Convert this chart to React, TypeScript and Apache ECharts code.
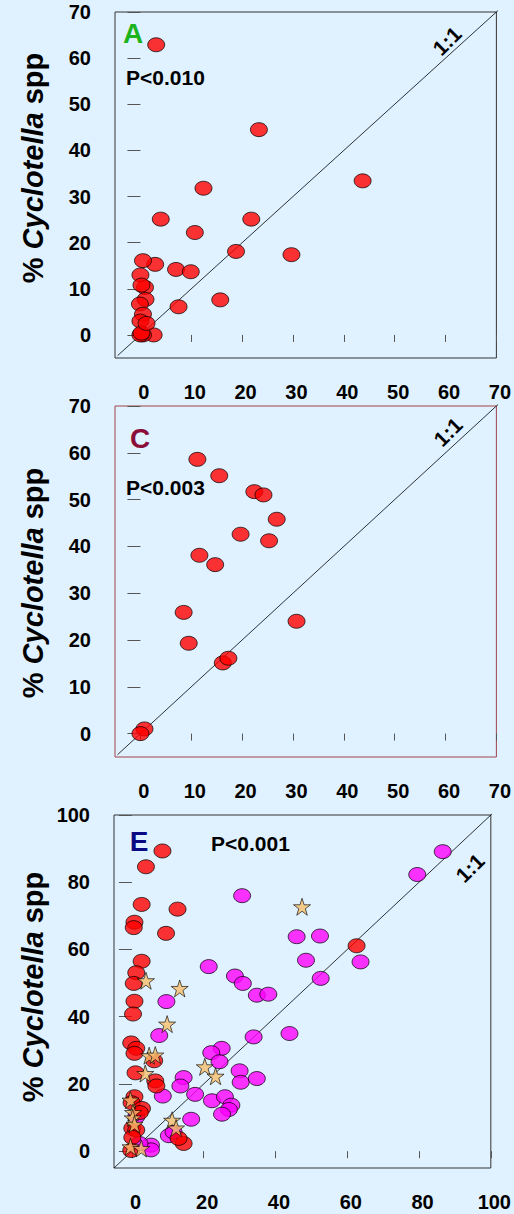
import React, { useEffect, useRef } from "react";
import * as echarts from "echarts";

// ---------- data ----------
const ticks70 = [0, 10, 20, 30, 40, 50, 60, 70];
const ticks100 = [0, 20, 40, 60, 80, 100];

const aRed: number[][] = [
  [3.1, 62.9], [23.3, 44.5], [12.4, 31.8], [43.7, 33.4], [4.0, 25.1], [21.8, 25.1],
  [10.7, 22.2], [29.7, 17.4], [18.8, 18.1], [2.9, 15.3], [7.0, 14.2], [9.9, 13.7],
  [0.5, 16.1], [0.0, 13.0], [0.9, 10.3], [0.2, 10.8], [1.0, 7.7], [-0.1, 6.7],
  [7.5, 6.1], [15.7, 7.6], [0.5, 4.5], [0.0, 3.0], [2.6, 0.0], [0.5, 0.0],
  [0.0, 0.0], [0.2, 0.4], [1.2, 2.5],
];

const cRed: number[][] = [
  [11.2, 58.6], [15.5, 55.1], [22.4, 51.7], [24.2, 51.0], [26.8, 45.8], [19.7, 42.6],
  [25.3, 41.2], [11.6, 38.1], [14.7, 36.1], [8.5, 25.9], [9.5, 19.3], [30.7, 24.0],
  [16.2, 15.1], [17.3, 16.1], [0.8, 1.0], [0.0, 0.0],
];

const eMagenta: number[][] = [
  [86.6, 89.1], [79.5, 82.3], [30.7, 76.0], [45.9, 63.8], [52.4, 64.0], [48.5, 56.8],
  [63.7, 56.3], [52.6, 51.4], [21.4, 54.9], [28.7, 52.1], [30.9, 49.9], [34.8, 46.4],
  [38.0, 46.7], [9.6, 44.5], [7.6, 34.4], [33.9, 34.0], [43.9, 35.0], [25.0, 30.6],
  [22.1, 29.3], [24.4, 26.6], [30.0, 23.9], [30.3, 20.5], [34.8, 21.6], [14.4, 21.9],
  [13.5, 19.4], [17.6, 16.9], [8.6, 16.4], [22.3, 15.0], [25.9, 16.2], [27.7, 13.7],
  [27.0, 12.4], [25.1, 11.0], [16.5, 9.5], [10.3, 4.6], [11.6, 5.7], [5.3, 1.8],
  [5.3, 0.4], [2.1, 2.3], [1.2, 10.2],
];

const eRed: number[][] = [
  [8.5, 89.3], [3.9, 84.6], [2.7, 73.4], [12.7, 72.0], [0.7, 68.1], [0.5, 66.5],
  [9.5, 64.8], [2.7, 56.5], [1.2, 53.1], [0.5, 49.9], [62.6, 61.1], [0.7, 44.6],
  [0.3, 40.8], [-0.2, 32.2], [1.2, 30.6], [0.7, 29.1], [6.2, 26.9], [1.0, 23.3],
  [6.5, 20.9], [6.8, 19.4], [0.7, 16.2], [-0.1, 14.4], [2.8, 12.7], [2.2, 11.5],
  [0.1, 6.8], [1.2, 6.3], [0.1, 4.1], [-0.2, 0.2], [14.4, 2.3], [13.0, 3.8],
];

const eStar: number[][] = [
  [47.4, 72.7], [3.9, 50.7], [13.3, 48.4], [9.8, 37.8], [4.8, 28.4], [6.5, 28.6],
  [3.7, 23.1], [20.3, 25.1], [23.3, 22.3], [-0.4, 15.2], [0.3, 11.5], [0.2, 9.9],
  [0.7, 8.0], [11.2, 9.2], [12.3, 6.9], [-0.4, 1.3], [2.6, 0.8],
];

const oneToOne70: number[][] = [[-4.5, -4.5], [70.8, 70.8]];
const oneToOne100: number[][] = [[-5, -5], [101, 101]];

const panelLetters = ["A", "C", "E"];
const pLabels = ["P<0.010", "P<0.003", "P<0.001"];

// ---------- styles ----------
const FONT = "Liberation Sans, Arial, Helvetica, sans-serif";
const BG = "#E0F2FF";
const STAR =
  "path://M50,0 L61.8,35.4 L99,35.4 L69,57.3 L80.4,92.7 L50,70.8 L19.6,92.7 L31,57.3 L1,35.4 L38.2,35.4 Z";

const ellipse = { symbol: "circle", symbolSize: [17, 14] };
const redStyle = { color: "#FF0000", borderColor: "#000", borderWidth: 0.9 };
const magStyle = { color: "#FF00FF", borderColor: "#000", borderWidth: 0.9 };
const starStyle = { color: "#F7BE6C", borderColor: "#000", borderWidth: 0.8 };

export default function App() {
  const ref = useRef<HTMLDivElement>(null);

  useEffect(() => {
    document.body.style.margin = "0";
    document.body.style.background = BG;
    const chart = echarts.init(ref.current!, null, { renderer: "svg" });

    const grids = [
      { left: 115, top: 12, width: 385, height: 346, border: "#333" },
      { left: 115, top: 406, width: 384, height: 351, border: "#A0444A" },
      { left: 114, top: 815, width: 385, height: 353, border: "#333" },
    ];

    const labelStyle = {
      fontSize: 20,
      fontWeight: "bold",
      fontFamily: FONT,
      color: "#000",
    };

    const mkX = (i: number, max: number, vals: number[]) => ({
      type: "value",
      gridIndex: i,
      min: -5,
      max,
      splitLine: { show: false },
      axisLine: { show: false },
      axisTick: { show: true, length: 7, inside: false, customValues: vals, lineStyle: { color: "#555", width: 1 } },
      axisLabel: { customValues: vals, margin: 24, padding: [0, 0, 0, 7], ...labelStyle },
    });
    const mkY = (i: number, max: number, vals: number[]) => ({
      type: "value",
      gridIndex: i,
      min: -5,
      max,
      splitLine: { show: false },
      axisLine: { show: false },
      axisTick: { show: true, length: 13, inside: false, customValues: vals, lineStyle: { color: "#555", width: 1 } },
      axisLabel: { customValues: vals, margin: 24, ...labelStyle },
    });

    const diag = (i: number, d: number[][]) => ({
      type: "line",
      xAxisIndex: i,
      yAxisIndex: i,
      data: d,
      symbol: "none",
      silent: true,
      clip: false,
      lineStyle: { color: "#000", width: 0.8 },
      z: 1,
    });
    const sc = (i: number, d: number[][], style: any, sym: any, z: number) => ({
      type: "scatter",
      xAxisIndex: i,
      yAxisIndex: i,
      data: d,
      ...sym,
      itemStyle: style,
      z,
    });

    const yTitleCenters = [
      [33, 168],
      [33, 583],
      [33, 987],
    ];
    const letterColors = ["#1DB31D", "#8B0D3A", "#0A0A85"];
    const letterPos = [
      [133, 33],
      [140, 438],
      [139, 841],
    ];
    const pPos = [
      [126, 77],
      [126, 487],
      [211, 843],
    ];
    const oneOnePos = [
      [447, 41],
      [448, 432],
      [470, 868],
    ];

    const graphics: any[] = [];
    for (let i = 0; i < 3; i++) {
      graphics.push({
        type: "text",
        x: yTitleCenters[i][0],
        y: yTitleCenters[i][1],
        rotation: Math.PI / 2,
        style: {
          text: "{n|% }{i|Cyclotella}{n| spp}",
          textAlign: "center",
          textVerticalAlign: "middle",
          fill: "#000",
          rich: {
            n: { fontSize: 29, fontWeight: "bold", fontFamily: FONT, fill: "#000" },
            i: { fontSize: 29, fontWeight: "bold", fontStyle: "italic", fontFamily: FONT, fill: "#000" },
          },
        },
      });
      graphics.push({
        type: "text",
        x: letterPos[i][0],
        y: letterPos[i][1],
        style: {
          text: panelLetters[i],
          textAlign: "center",
          textVerticalAlign: "middle",
          fill: letterColors[i],
          fontSize: 28,
          fontWeight: "bold",
          fontFamily: FONT,
        },
      });
      graphics.push({
        type: "text",
        x: pPos[i][0],
        y: pPos[i][1],
        style: {
          text: pLabels[i],
          textAlign: "left",
          textVerticalAlign: "middle",
          fill: "#000",
          fontSize: 21,
          fontWeight: "bold",
          fontFamily: FONT,
        },
      });
      graphics.push({
        type: "text",
        x: oneOnePos[i][0],
        y: oneOnePos[i][1],
        rotation: Math.PI / 4,
        style: {
          text: "1:1",
          textAlign: "center",
          textVerticalAlign: "middle",
          fill: "#000",
          fontSize: 21,
          fontWeight: "bold",
          fontFamily: FONT,
        },
      });
    }

    chart.setOption({
      animation: false,
      backgroundColor: BG,
      grid: grids.map((g) => ({
        left: g.left,
        top: g.top,
        width: g.width,
        height: g.height,
        show: true,
        borderColor: g.border,
        borderWidth: 1,
        backgroundColor: "transparent",
        containLabel: false,
      })),
      xAxis: [mkX(0, 70, ticks70), mkX(1, 70, ticks70), mkX(2, 100, ticks100)],
      yAxis: [mkY(0, 70, ticks70), mkY(1, 70, ticks70), mkY(2, 100, ticks100)],
      series: [
        diag(0, oneToOne70),
        sc(0, aRed, redStyle, ellipse, 3),
        diag(1, oneToOne70),
        sc(1, cRed, redStyle, ellipse, 3),
        diag(2, oneToOne100),
        sc(2, eMagenta, magStyle, ellipse, 2),
        sc(2, eRed, redStyle, ellipse, 3),
        sc(2, eStar, starStyle, { symbol: STAR, symbolSize: 17 }, 4),
      ],
      graphic: graphics,
    });

    return () => chart.dispose();
  }, []);

  return <div ref={ref} style={{ width: 514, height: 1214, background: BG }} />;
}
